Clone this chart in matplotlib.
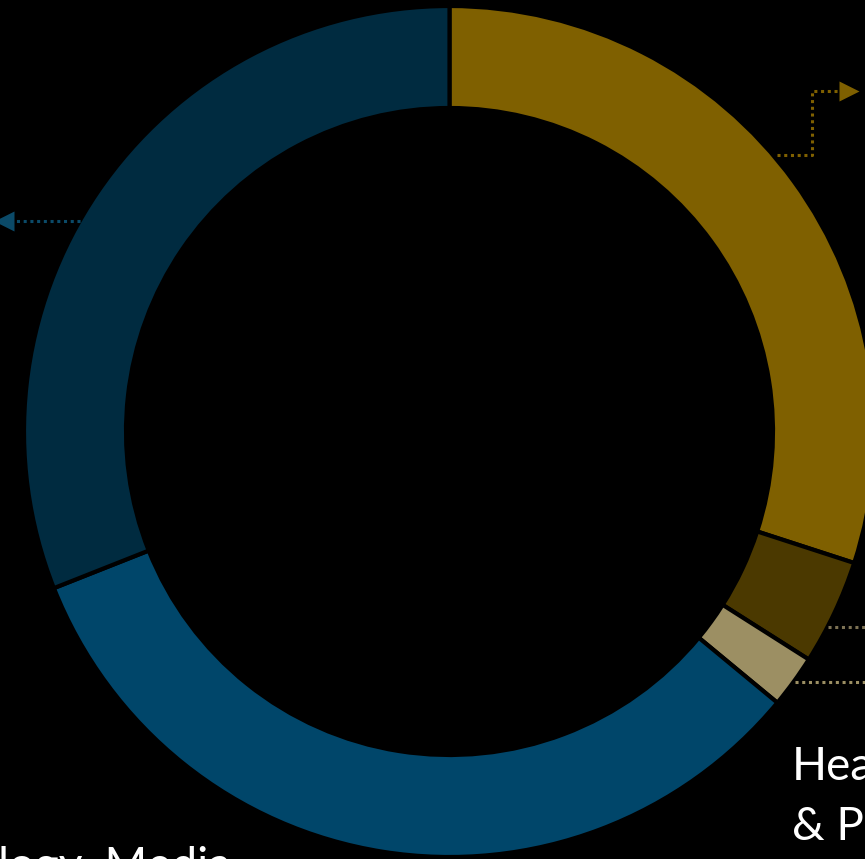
import matplotlib
matplotlib.use("Agg")
import matplotlib.pyplot as plt

# Доли сегментов (по часовой стрелке от верха)
labels = ["Energy", "Industrials", "Consumer", "Technology, Media", "Financial"]
shares = [30.0, 4.0, 2.0, 33.0, 31.0]
colors = ["#7F6000", "#4B3900", "#9C8F63", "#00466A", "#002B40"]

# Подписи, видимые на картинке
text_right = ["Healthcare", "& Pharma"]
text_bottom = "Technology, Media"

W, H = 865, 859
fig = plt.figure(figsize=(W / 100, H / 100), dpi=100, facecolor="black")
ax = fig.add_axes([0, 0, 1, 1])
ax.set_facecolor("black")

cx, cy = 449.5, H - 431.5
r_out, r_in = 425.5, 323.5

ax.pie(shares, colors=colors, startangle=90, counterclock=False,
       center=(cx, cy), radius=r_out,
       wedgeprops=dict(width=r_out - r_in, edgecolor="black", linewidth=3))

# выноски
dot = (0, (1, 1.2))
ax.plot([777, 812, 812, 845], [H - 155, H - 155, H - 91, H - 91],
        color="#7F6000", lw=2.2, ls=dot, dash_capstyle="butt")
ax.plot([849], [H - 91], marker=">", ms=15, color="#7F6000", mec="none")
ax.plot([80, 8], [H - 221, H - 221], color="#0B4A68", lw=2.2, ls=dot,
        dash_capstyle="butt")
ax.plot([4], [H - 221], marker="<", ms=15, color="#0B4A68", mec="none")
ax.plot([828, 865], [H - 627, H - 627], color="#7D7254", lw=2.2, ls=dot,
        dash_capstyle="butt")
ax.plot([795, 865], [H - 682, H - 682], color="#9C8F63", lw=2.2, ls=dot,
        dash_capstyle="butt")

fnt = ["Lato", "DejaVu Sans"]
for i, t in enumerate(text_right):
    ax.text(792, H - 780 - 60 * i, t, color="white", fontsize=33,
            family=fnt, ha="left", va="baseline")
ax.text(231, H - 880, text_bottom, color="white", fontsize=33,
        family=fnt, ha="right", va="baseline")

ax.set_xlim(0, W)
ax.set_ylim(0, H)
ax.set_aspect("equal")
ax.axis("off")

fig.savefig("out.png", dpi=100, facecolor="black")
